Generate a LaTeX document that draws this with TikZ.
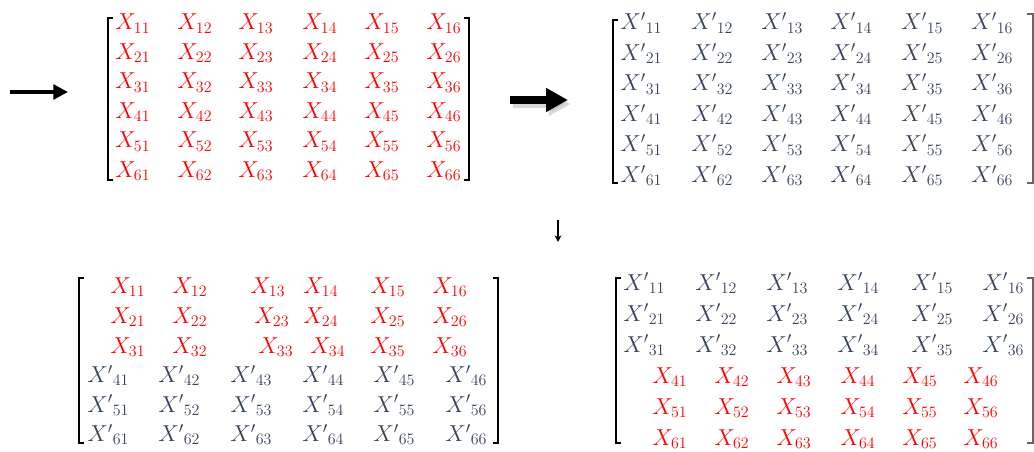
\documentclass[tikz,border=0pt]{standalone}
\usepackage{amsmath}
\usepackage{xcolor}
\usetikzlibrary{arrows.meta,positioning}
\definecolor{origred}{RGB}{255,0,0}
\definecolor{updslate}{RGB}{52,66,92}

\begin{document}
\begin{tikzpicture}[x=0.75pt, y=-0.75pt,
    every node/.style={font=\fontsize{18}{20}\selectfont, inner sep=0pt, anchor=base west},
    orig/.style={text=origred},
    upd/.style={text=updslate},
    brk/.style={line width=1.5pt, black},
    thinbrk/.style={line width=0.9pt, black!60},
    arr/.style={-{Triangle[length=11pt,width=11pt]}, line width=3pt},
    bigarr/.style={-{Triangle[length=16.5pt,width=17pt]}, line width=6pt},
    downarr/.style={-{Stealth[length=5pt,width=5pt]}, line width=0.8pt}]

    \useasboundingbox (0,0) rectangle (1034,452);

    %% Input arrow
    \coordinate (inA) at (10,92);
    \coordinate (inB) at (68,92);
    \draw[arr] (inA) -- (inB);

    %% Matrix 1 — original blocks
    \foreach \r/\yy in {1/30,2/59.5,3/89,4/118.5,5/148,6/177.5}
      \foreach \c/\xx in {1/115,2/177,3/238,4/302,5/364,6/426}
        \node[orig] (orig\r\c) at (\xx,\yy) {$X_{\r\c}$};
    \draw[brk] (113,18) -- (108,18) -- (108,180) -- (113,180);
    \draw[brk] (464,18) -- (469,18) -- (469,180) -- (464,180);

    %% Transform arrow (with shadow)
    \coordinate (trA) at (510,100);
    \coordinate (trB) at (568,100);
    \draw[bigarr, draw=black!25, opacity=0.6, transform canvas={shift={(2pt,-3pt)}}] (trA) -- (trB);
    \draw[bigarr] (trA) -- (trB);

    %% Matrix 2 — updated blocks
    \foreach \r/\yy in {1/30,2/60.5,3/91,4/121.5,5/152,6/182.5}
      \foreach \c/\xx in {1/620,2/691,3/761,4/830,5/901,6/971}
        \node[upd] (upd\r\c) at (\xx,\yy) {${X'}_{\r\c}$};
    \draw[brk] (618,20) -- (613,20) -- (613,183) -- (618,183);
    \draw[thinbrk] (1027,14) -- (1033,14) -- (1033,183) -- (1027,183);

    %% Down arrow
    \coordinate (dnA) at (558,220);
    \coordinate (dnB) at (558,242);
    \draw[downarr] (dnA) -- (dnB);

    %% Matrix 3 — top half original, bottom half updated
    \foreach \c/\xx in {1/110,2/172,3/250,4/303,5/370,6/432}
      \node[orig] (mixA1\c) at (\xx,293) {$X_{1\c}$};
    \foreach \c/\xx in {1/110,2/172,3/254,4/303,5/370,6/432}
      \node[orig] (mixA2\c) at (\xx,323) {$X_{2\c}$};
    \foreach \c/\xx in {1/110,2/172,3/258,4/310,5/370,6/432}
      \node[orig] (mixA3\c) at (\xx,353) {$X_{3\c}$};
    \foreach \r/\yy in {4/382.5,5/412,6/441.5}
      \foreach \c/\xx in {1/87,2/158,3/230,4/302,5/373,6/445}
        \node[upd] (mixA\r\c) at (\xx,\yy) {${X'}_{\r\c}$};
    \draw[brk] (84,278) -- (79,278) -- (79,443) -- (84,443);
    \draw[brk] (493,278) -- (498,278) -- (498,443) -- (493,443);

    %% Matrix 4 — top half updated, bottom half original
    \foreach \r/\yy in {1/290,2/321,3/352}
      \foreach \c/\xx in {1/623,2/695,3/766,4/837,5/911,6/982}
        \node[upd] (mixB\r\c) at (\xx,\yy) {${X'}_{\r\c}$};
    \foreach \r/\yy in {4/383,5/414,6/445}
      \foreach \c/\xx in {1/652,2/714,3/776,4/840,5/902,6/963}
        \node[orig] (mixB\r\c) at (\xx,\yy) {$X_{\r\c}$};
    \draw[brk] (621,278) -- (616,278) -- (616,443) -- (621,443);
    \draw[thinbrk] (1027,278) -- (1033,278) -- (1033,443) -- (1027,443);
\end{tikzpicture}
\end{document}
